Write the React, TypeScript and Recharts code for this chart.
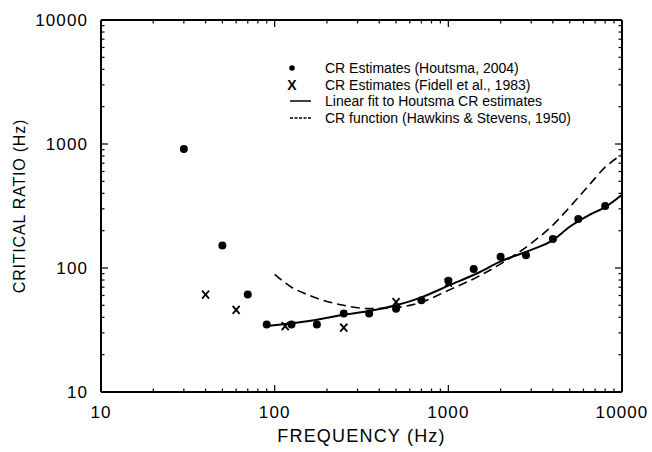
import React from "react";
import { ComposedChart, Line, Scatter, XAxis, YAxis, Legend, Label } from "recharts";

// Houtsma (2004) critical-ratio estimates
const houtsmaFreq = [30, 50, 70, 90, 125, 175, 250, 350, 500, 700, 1000, 1400, 2000, 2800, 4000, 5600, 8000];
const houtsmaCR = [910, 152, 61, 35, 35, 35, 43, 43, 47, 55, 79, 98, 123, 127, 171, 248, 316];

// Fidell et al. (1983)
const fidellFreq = [40, 60, 115, 250, 500, 1000];
const fidellCR = [61, 46, 34, 33, 53, 76];

// linear fit to the Houtsma estimates
const fitFreq = [90, 150, 250, 350, 500, 700, 1000, 1500, 2000, 3000, 4000, 5000, 6500, 8000, 10000];
const fitCR = [34, 37, 42, 45, 50, 58, 72, 92, 113, 140, 168, 215, 268, 310, 390];

// Hawkins & Stevens (1950) CR function
const hsFreq = [100, 125, 150, 175, 250, 350, 500, 700, 1000, 1500, 2000, 3000, 4000, 5000, 6500, 8000, 10000];
const hsCR = [89, 70, 62, 57, 50, 47, 48, 53, 66, 86, 108, 158, 222, 310, 470, 650, 820];

const majorTicks = [10, 100, 1000, 10000];
const allTicks = [
  10, 20, 30, 40, 50, 60, 70, 80, 90,
  100, 200, 300, 400, 500, 600, 700, 800, 900,
  1000, 2000, 3000, 4000, 5000, 6000, 7000, 8000, 9000,
  10000,
];

const zip = (fs: number[], cs: number[]) => fs.map((f, i) => ({ f, cr: cs[i] }));
const houtsma = zip(houtsmaFreq, houtsmaCR);
const fidell = zip(fidellFreq, fidellCR);
const fit = zip(fitFreq, fitCR);
const hs = zip(hsFreq, hsCR);

const FONT = '"Liberation Sans", Arial, Helvetica, sans-serif';
const tickFont = { fontFamily: FONT, fontSize: 17, letterSpacing: 1.1, fill: "#000" };

const tickLen = (v: number) => (majorTicks.includes(v) ? 7 : 3.5);

function BottomTick({ x, y, payload }: any) {
  const v = payload.value;
  return (
    <g>
      <line x1={x} x2={x} y1={y} y2={y - tickLen(v)} stroke="#000" strokeWidth={1.2} />
      {majorTicks.includes(v) && (
        <text x={x} y={y + 26} textAnchor="middle" {...tickFont}>
          {v}
        </text>
      )}
    </g>
  );
}

function TopTick({ x, y, payload }: any) {
  const v = payload.value;
  return <line x1={x} x2={x} y1={y} y2={y + tickLen(v)} stroke="#000" strokeWidth={1.2} />;
}

function LeftTick({ x, y, payload }: any) {
  const v = payload.value;
  return (
    <g>
      <line x1={x} x2={x + tickLen(v)} y1={y} y2={y} stroke="#000" strokeWidth={1.2} />
      {majorTicks.includes(v) && (
        <text x={x - 13} y={y + 6} textAnchor="end" {...tickFont}>
          {v}
        </text>
      )}
    </g>
  );
}

function RightTick({ x, y, payload }: any) {
  const v = payload.value;
  return <line x1={x} x2={x - tickLen(v)} y1={y} y2={y} stroke="#000" strokeWidth={1.2} />;
}

const DotShape = ({ cx, cy }: any) => <circle cx={cx} cy={cy} r={4} fill="#000" />;

const CrossShape = ({ cx, cy }: any) => (
  <g stroke="#000" strokeWidth={1.8}>
    <line x1={cx - 3.5} y1={cy - 4} x2={cx + 3.5} y2={cy + 4} />
    <line x1={cx - 3.5} y1={cy + 4} x2={cx + 3.5} y2={cy - 4} />
  </g>
);

const legendRows = [
  { key: "dot", label: "CR Estimates (Houtsma, 2004)" },
  { key: "x", label: "CR Estimates (Fidell et al., 1983)" },
  { key: "solid", label: "Linear fit to Houtsma CR estimates" },
  { key: "dash", label: "CR function (Hawkins & Stevens, 1950)" },
];

function LegendIcon({ kind }: { kind: string }) {
  return (
    <svg width={41} height={16} style={{ flex: "none" }}>
      {kind === "dot" && <circle cx={8} cy={8} r={2.8} fill="#000" />}
      {kind === "x" && (
        <text x={8} y={13} textAnchor="middle" fontFamily={FONT} fontWeight="bold" fontSize={14}>
          X
        </text>
      )}
      {kind === "solid" && <line x1={6} x2={27} y1={8} y2={8} stroke="#000" strokeWidth={1.5} />}
      {kind === "dash" && (
        <line x1={6} x2={27} y1={8} y2={8} stroke="#000" strokeWidth={1.5} strokeDasharray="3 1.5" />
      )}
    </svg>
  );
}

function renderLegend() {
  return (
    <div style={{ fontFamily: FONT, fontSize: 14, color: "#000", lineHeight: "16.5px" }}>
      {legendRows.map((r) => (
        <div key={r.key} style={{ display: "flex", alignItems: "center", height: 16.5, whiteSpace: "nowrap" }}>
          <LegendIcon kind={r.key} />
          <span>{r.label}</span>
        </div>
      ))}
    </div>
  );
}

export default function App() {
  return (
    <div style={{ position: "absolute", left: 0, top: 0, width: 652, height: 452, background: "#fff" }}>
      <ComposedChart width={652} height={452} margin={{ top: 0, right: 0, bottom: 0, left: 0 }}>
        <XAxis
          dataKey="f"
          type="number"
          scale="log"
          domain={[10, 10000]}
          ticks={allTicks}
          interval={0}
          tickSize={0}
          tickMargin={0}
          tick={<BottomTick />}
          height={60}
          axisLine={{ stroke: "#000", strokeWidth: 2 }}
          allowDataOverflow
        >
          <Label
            content={({ viewBox }: any) => (
              <text
                x={viewBox.x + viewBox.width / 2}
                y={viewBox.y + 50}
                textAnchor="middle"
                fontFamily={FONT}
                fontSize={18}
                letterSpacing={1.2}
              >
                FREQUENCY (Hz)
              </text>
            )}
          />
        </XAxis>
        <XAxis
          xAxisId="top"
          orientation="top"
          dataKey="f"
          type="number"
          scale="log"
          domain={[10, 10000]}
          ticks={allTicks}
          interval={0}
          tickSize={0}
          tickMargin={0}
          tick={<TopTick />}
          height={20}
          axisLine={{ stroke: "#000", strokeWidth: 2 }}
          allowDataOverflow
        />
        <YAxis
          dataKey="cr"
          type="number"
          scale="log"
          domain={[10, 10000]}
          ticks={allTicks}
          interval={0}
          tickSize={0}
          tickMargin={0}
          tick={<LeftTick />}
          width={101}
          axisLine={{ stroke: "#000", strokeWidth: 2 }}
          allowDataOverflow
        >
          <Label
            content={({ viewBox }: any) => {
              const cx = 19;
              const cy = viewBox.y + viewBox.height / 2;
              return (
                <text
                  x={cx}
                  y={cy}
                  textAnchor="middle"
                  dominantBaseline="central"
                  transform={`rotate(-90 ${cx} ${cy})`}
                  fontFamily={FONT}
                  fontSize={16}
                  letterSpacing={0.8}
                >
                  CRITICAL RATIO (Hz)
                </text>
              );
            }}
          />
        </YAxis>
        <YAxis
          yAxisId="right"
          orientation="right"
          dataKey="cr"
          type="number"
          scale="log"
          domain={[10, 10000]}
          ticks={allTicks}
          interval={0}
          tickSize={0}
          tickMargin={0}
          tick={<RightTick />}
          width={30}
          axisLine={{ stroke: "#000", strokeWidth: 2 }}
          allowDataOverflow
        />
        <Line
          data={hs}
          dataKey="cr"
          type="monotone"
          stroke="#000"
          strokeWidth={1.6}
          strokeDasharray="9 5"
          dot={false}
          activeDot={false}
          isAnimationActive={false}
        />
        <Line
          data={fit}
          dataKey="cr"
          type="monotone"
          stroke="#000"
          strokeWidth={2}
          dot={false}
          activeDot={false}
          isAnimationActive={false}
        />
        <Scatter data={houtsma} dataKey="cr" shape={<DotShape />} isAnimationActive={false} />
        <Scatter data={fidell} dataKey="cr" shape={<CrossShape />} isAnimationActive={false} />
        <Legend
          layout="vertical"
          align="center"
          verticalAlign="middle"
          content={renderLegend}
          wrapperStyle={{ position: "absolute", left: 284, top: 60, width: "auto" }}
        />
      </ComposedChart>
    </div>
  );
}
